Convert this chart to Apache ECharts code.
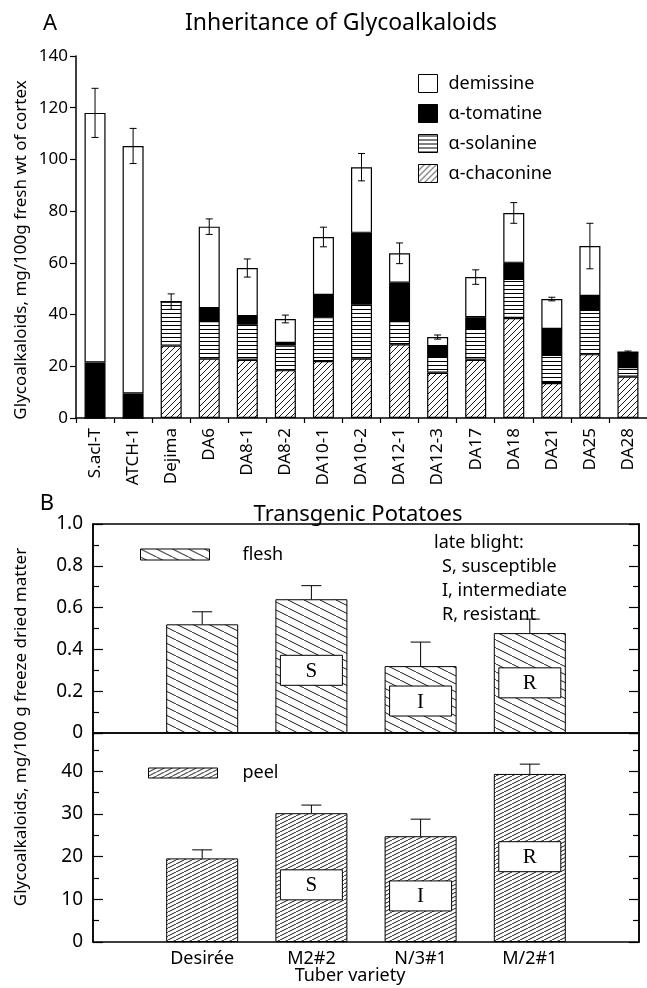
<!DOCTYPE html>
<html><head><meta charset="utf-8">
<script src="https://cdn.jsdelivr.net/npm/echarts@6/dist/echarts.min.js"></script>
<style>html,body{margin:0;padding:0;background:#fff}#c{width:647px;height:988px}</style>
</head><body><div id="c"></div>
<script>
// ---------- Panel A data ----------
const categoriesA = ['S.acl-T','ATCH-1','Dejima','DA6','DA8-1','DA8-2','DA10-1','DA10-2','DA12-1','DA12-3','DA17','DA18','DA21','DA25','DA28'];
const chaconine = [0, 0, 28, 23, 22.5, 18.5, 22, 23, 28.5, 17.5, 22.5, 38.7, 13.5, 24.7, 16];
const solanine  = [0, 0, 17, 14.5, 13.8, 9.5, 17, 21, 9, 6.5, 12.3, 15.1, 10.9, 17.1, 3.7];
const tomatine  = [21.5, 9.5, 0, 5, 3.1, 1, 8.6, 27.6, 14.8, 3.8, 4.2, 6.2, 10, 5.4, 5.8];
const demissine = [96.5, 95.7, 0, 31.5, 18.6, 9.3, 22.4, 25.4, 11.4, 3.5, 15.5, 19.3, 11.6, 19.3, 0];
const errA      = [9.5, 6.8, 3, 3, 3.5, 1.5, 3.8, 5.3, 4, 0.8, 2.8, 4, 0.7, 8.8, 0.4];
const yTicksA = [0, 20, 40, 60, 80, 100, 120, 140];

// ---------- Panel B data ----------
const categoriesB = ['', 'Desirée', 'M2#2', 'N/3#1', 'M/2#1', ''];
const flesh     = ['-', 0.52, 0.64, 0.32, 0.478, '-'];
const fleshErr  = ['-', 0.06, 0.065, 0.115, 0.067, '-'];
const peel      = ['-', 19.6, 30.2, 24.8, 39.4, '-'];
const peelErr   = ['-', 2.0, 1.9, 4.0, 2.3, '-'];
const blightTag = ['', '', 'S', 'I', 'R', ''];
const fleshTagLevel = ['-', '-', 0.30, 0.153, 0.24, '-'];
const peelTagLevel  = ['-', '-', 13.4, 10.8, 20.0, '-'];

const FONT = 'Noto Sans';

function makePattern(w, h, draw) {
  const c = document.createElement('canvas');
  c.width = w; c.height = h;
  const ctx = c.getContext('2d');
  ctx.fillStyle = '#fff'; ctx.fillRect(0, 0, w, h);
  ctx.strokeStyle = '#000'; ctx.fillStyle = '#000'; ctx.lineWidth = 0.9;
  draw(ctx, w, h);
  return { image: c, repeat: 'repeat' };
}
const slashPat = (w, h) => makePattern(w, h, (ctx, w, h) => {
  ctx.beginPath();
  for (let k = -1; k <= 1; k++) { ctx.moveTo(k * w, h); ctx.lineTo(k * w + w, 0); }
  ctx.stroke();
});
const backPat = (w, h) => makePattern(w, h, (ctx, w, h) => {
  ctx.beginPath();
  for (let k = -1; k <= 1; k++) { ctx.moveTo(k * w, 0); ctx.lineTo(k * w + w, h); }
  ctx.stroke();
});
const patChac = slashPat(6, 6);
const patSol = makePattern(4, 4, (ctx) => { ctx.fillRect(0, 1, 4, 1); });
const patFlesh = backPat(16, 8);
const patPeel = slashPat(8, 4);

const totalA = categoriesA.map((c, i) => chaconine[i] + solanine[i] + tomatine[i] + demissine[i]);

function errRenderBoth(params, api) {
  const x = api.value(0), v = api.value(1), e = api.value(2);
  const top = api.coord([x, v + e]), bot = api.coord([x, v - e]);
  const hw = 3.5;
  return { type: 'group', children: [
    { type: 'line', shape: { x1: top[0], y1: top[1], x2: bot[0], y2: bot[1] }, style: { stroke: '#000', lineWidth: 1 } },
    { type: 'line', shape: { x1: top[0] - hw, y1: top[1], x2: top[0] + hw, y2: top[1] }, style: { stroke: '#000', lineWidth: 1 } },
    { type: 'line', shape: { x1: bot[0] - hw, y1: bot[1], x2: bot[0] + hw, y2: bot[1] }, style: { stroke: '#000', lineWidth: 1 } }
  ]};
}
function errRenderUp(params, api) {
  const x = api.value(0), v = api.value(1), e = api.value(2);
  if (isNaN(v)) return null;
  const top = api.coord([x, v + e]), base = api.coord([x, v]);
  const hw = 10;
  return { type: 'group', children: [
    { type: 'line', shape: { x1: base[0], y1: base[1], x2: top[0], y2: top[1] }, style: { stroke: '#000', lineWidth: 1 } },
    { type: 'line', shape: { x1: top[0] - hw, y1: top[1], x2: top[0] + hw, y2: top[1] }, style: { stroke: '#000', lineWidth: 1 } }
  ]};
}
function tagRender(params, api) {
  const x = api.value(0), v = api.value(1);
  if (isNaN(v)) return null;
  const p = api.coord([x, v]);
  const w = 62, h = 30;
  return { type: 'group', children: [
    { type: 'rect', shape: { x: p[0] - w / 2, y: p[1] - h / 2, width: w, height: h }, style: { fill: '#fff', stroke: '#000', lineWidth: 1 } },
    { type: 'text', x: p[0], y: p[1] + 1, style: { text: blightTag[params.dataIndex], fontFamily: 'Liberation Serif', fontSize: 21, fill: '#000', align: 'center', verticalAlign: 'middle' } }
  ]};
}

const axisLineStyle = { color: '#000', width: 1.5 };
const txt = (t, x, y, size, extra) => Object.assign({ type: 'text', x, y, style: Object.assign({ text: t, fontFamily: FONT, fontSize: size, fill: '#000', align: 'center', verticalAlign: 'middle' }, extra || {}) });

const fleshAxisCommon = {
  gridIndex: 1, type: 'value', min: 0, max: 1, interval: 0.2,
  axisLine: { show: true, lineStyle: axisLineStyle },
  axisTick: { show: true, inside: true, length: 10, lineStyle: { color: '#000', width: 1.2 } },
  minorTick: { show: true, splitNumber: 2, length: 6, lineStyle: { color: '#000', width: 1.2 } },
  splitLine: { show: false }, minorSplitLine: { show: false }
};
const peelAxisCommon = {
  gridIndex: 2, type: 'value', min: 0, max: 49, interval: 10,
  axisLine: { show: true, lineStyle: axisLineStyle },
  axisTick: { show: true, inside: true, length: 10, lineStyle: { color: '#000', width: 1.2 } },
  minorTick: { show: true, splitNumber: 2, length: 6, lineStyle: { color: '#000', width: 1.2 } },
  splitLine: { show: false }, minorSplitLine: { show: false }
};

const option = {
  animation: false,
  backgroundColor: '#fff',
  textStyle: { fontFamily: FONT },
  grid: [
    { left: 76, top: 56, width: 575, height: 362 },
    { left: 93, top: 524, width: 546, height: 209, show: true, borderColor: '#000', borderWidth: 1.5 },
    { left: 93, top: 733, width: 546, height: 209, show: true, borderColor: '#000', borderWidth: 1.5 }
  ],
  xAxis: [
    { type: 'category', gridIndex: 0, data: categoriesA,
      axisLine: { lineStyle: axisLineStyle },
      axisTick: { show: true, length: 5, lineStyle: { color: '#000', width: 1.2 } },
      axisLabel: { rotate: 90, fontSize: 17, color: '#000', margin: 10, fontFamily: FONT } },
    { type: 'category', gridIndex: 1, data: categoriesB, boundaryGap: false,
      axisLine: { show: false }, axisTick: { show: false }, axisLabel: { show: false } },
    { type: 'category', gridIndex: 2, data: categoriesB, boundaryGap: false,
      axisLine: { show: false }, axisTick: { show: false },
      axisLabel: { fontSize: 18, color: '#000', margin: 8, fontFamily: FONT, interval: 0 } }
  ],
  yAxis: [
    { type: 'value', gridIndex: 0, min: yTicksA[0], max: yTicksA[yTicksA.length - 1], interval: yTicksA[1] - yTicksA[0],
      axisLine: { show: true, lineStyle: axisLineStyle },
      axisTick: { show: true, length: 6, lineStyle: { color: '#000', width: 1.2 } },
      axisLabel: { fontSize: 17, color: '#000', margin: 8, fontFamily: FONT },
      splitLine: { show: false } },
    Object.assign({}, fleshAxisCommon, { position: 'left',
      axisLabel: { fontSize: 19, color: '#000', margin: 10, fontFamily: FONT, formatter: v => v === 0 ? '0' : v.toFixed(1) } }),
    Object.assign({}, fleshAxisCommon, { position: 'right', axisLabel: { show: false } }),
    Object.assign({}, peelAxisCommon, { position: 'left',
      axisLabel: { fontSize: 19, color: '#000', margin: 10, fontFamily: FONT, showMaxLabel: false } }),
    Object.assign({}, peelAxisCommon, { position: 'right', axisLabel: { show: false } })
  ],
  legend: [
    { data: ['demissine', 'α-tomatine', 'α-solanine', 'α-chaconine'], orient: 'vertical', left: 413, top: 69,
      itemWidth: 19, itemHeight: 18, itemGap: 11, icon: 'rect', selectedMode: false,
      itemStyle: { borderColor: '#000', borderWidth: 1 },
      textStyle: { fontSize: 18, color: '#000', fontFamily: FONT, lineHeight: 18, padding: [0, 0, 0, 6] } },
    { data: ['flesh'], left: 135, top: 540.5, itemWidth: 69, itemHeight: 11, icon: 'rect', selectedMode: false,
      itemStyle: { borderColor: '#000', borderWidth: 1 },
      textStyle: { fontSize: 18, color: '#000', fontFamily: FONT, lineHeight: 18, padding: [0, 0, 0, 28] } },
    { data: ['peel'], left: 143, top: 759, itemWidth: 69, itemHeight: 10, icon: 'rect', selectedMode: false,
      itemStyle: { borderColor: '#000', borderWidth: 1 },
      textStyle: { fontSize: 18, color: '#000', fontFamily: FONT, lineHeight: 18, padding: [0, 0, 0, 20] } }
  ],
  series: [
    { name: 'α-chaconine', type: 'bar', stack: 'A', xAxisIndex: 0, yAxisIndex: 0, barWidth: 21, data: chaconine,
      itemStyle: { color: patChac, borderColor: '#000', borderWidth: 1.2 } },
    { name: 'α-solanine', type: 'bar', stack: 'A', xAxisIndex: 0, yAxisIndex: 0, barWidth: 21, data: solanine,
      itemStyle: { color: patSol, borderColor: '#000', borderWidth: 1.2 } },
    { name: 'α-tomatine', type: 'bar', stack: 'A', xAxisIndex: 0, yAxisIndex: 0, barWidth: 21, data: tomatine,
      itemStyle: { color: '#000', borderColor: '#000', borderWidth: 1.2 } },
    { name: 'demissine', type: 'bar', stack: 'A', xAxisIndex: 0, yAxisIndex: 0, barWidth: 21, data: demissine,
      itemStyle: { color: '#fff', borderColor: '#000', borderWidth: 1.2 } },
    { name: 'errA', type: 'custom', xAxisIndex: 0, yAxisIndex: 0, z: 5,
      data: categoriesA.map((c, i) => [i, totalA[i], errA[i]]), renderItem: errRenderBoth },

    { name: 'flesh', type: 'bar', xAxisIndex: 1, yAxisIndex: 1, barWidth: 72, data: flesh,
      itemStyle: { color: patFlesh, borderColor: '#000', borderWidth: 1 } },
    { name: 'fleshErr', type: 'custom', xAxisIndex: 1, yAxisIndex: 1, z: 5,
      data: categoriesB.map((c, i) => [i, flesh[i], fleshErr[i]]), renderItem: errRenderUp },
    { name: 'fleshTag', type: 'custom', xAxisIndex: 1, yAxisIndex: 1, z: 6,
      data: categoriesB.map((c, i) => [i, fleshTagLevel[i]]), renderItem: tagRender },

    { name: 'peel', type: 'bar', xAxisIndex: 2, yAxisIndex: 3, barWidth: 72, data: peel,
      itemStyle: { color: patPeel, borderColor: '#000', borderWidth: 1 } },
    { name: 'peelErr', type: 'custom', xAxisIndex: 2, yAxisIndex: 3, z: 5,
      data: categoriesB.map((c, i) => [i, peel[i], peelErr[i]]), renderItem: errRenderUp },
    { name: 'peelTag', type: 'custom', xAxisIndex: 2, yAxisIndex: 3, z: 6,
      data: categoriesB.map((c, i) => [i, peelTagLevel[i]]), renderItem: tagRender }
  ],
  graphic: [
    txt('A', 50, 24, 22),
    txt('Inheritance of Glycoalkaloids', 341, 23, 23),
    txt('Glycoalkaloids, mg/100g fresh wt of cortex', 21, 250, 17, {}),
    txt('B', 47, 504, 22),
    txt('Transgenic Potatoes', 358, 515, 22),
    txt('Glycoalkaloids, mg/100 g freeze dried matter', 21, 727, 17, {}),
    txt('Tuber variety', 350, 976, 18),
    txt('late blight:', 434, 543, 18, { align: 'left' }),
    txt('S, susceptible', 442, 567, 18, { align: 'left' }),
    txt('I, intermediate', 442, 591, 18, { align: 'left' }),
    txt('R, resistant', 442, 615, 18, { align: 'left' })
  ]
};
option.graphic[2].rotation = Math.PI / 2;
option.graphic[5].rotation = Math.PI / 2;

const chart = echarts.init(document.getElementById('c'), null, { renderer: 'canvas' });
chart.setOption(option);
</script>
</body></html>
